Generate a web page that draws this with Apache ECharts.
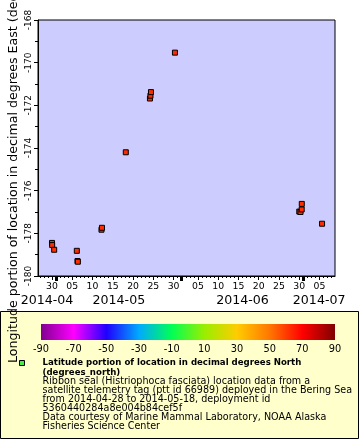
<!DOCTYPE html>
<html><head><meta charset="utf-8">
<script src="https://cdn.jsdelivr.net/npm/echarts@6/dist/echarts.min.js"></script>
<style>html,body{margin:0;padding:0;background:#fff}#c{width:360px;height:440px}</style>
</head><body><div id="c"></div>
<script>
// ---- data ----
const times = ['2014-04-30T00:00','2014-04-30T01:00','2014-04-30T13:00',
  '2014-05-06T03:00','2014-05-06T07:00','2014-05-06T09:00',
  '2014-05-12T05:00','2014-05-12T08:00','2014-05-18T05:00',
  '2014-05-24T04:00','2014-05-24T07:00','2014-05-24T10:00',
  '2014-05-30T08:00','2014-06-30T00:15','2014-06-30T07:30',
  '2014-06-30T14:30','2014-06-30T15:00','2014-07-05T15:00'];
const longitudes = [-178.45,-178.55,-178.77,
  -178.82,-179.30,-179.33,
  -177.83,-177.74,-174.20,
  -171.68,-171.55,-171.38,
  -169.53,-176.98,-177.00,
  -176.88,-176.62,-177.55];
const latitudes = [62.6,62.6,62.5,62.4,62.3,62.3,62.5,62.5,62.7,62.8,62.8,62.8,62.9,62.4,62.4,62.4,62.5,62.3];
const xRange = ['2014-04-26T13:10','2014-07-08T19:40'];
const yTicks = [-180,-178,-176,-174,-172,-170,-168];
const colorbarTicks = [-90,-70,-50,-30,-10,10,30,50,70,90];
const yTitle = 'Longitude portion of location in decimal degrees East (degrees_east)';
const legendTitle = ['Latitude portion of location in decimal degrees North','(degrees_north)'];
const legendLines = ['Ribbon seal (Histriophoca fasciata) location data from a',
  'satellite telemetry tag (ptt id 66989) deployed in the Bering Sea',
  'from 2014-04-28 to 2014-05-18, deployment id',
  '5360440284a8e004b84cef5f',
  'Data courtesy of Marine Mammal Laboratory, NOAA Alaska',
  'Fisheries Science Center'];
// ---- styles ----
const palette = ['#800090','#ff00ff','#2000ff','#00aaff','#00ff55','#99ee00','#ffcc00','#ff7700','#ff0000','#800000'];
const FONT = 'DejaVu Sans';

const DAY = 86400000;
const toMs = s => Date.parse(s + ':00Z');
const xMin = toMs(xRange[0]), xMax = toMs(xRange[1]);
const dayTicks = [], fiveTicks = [], monthTicks = [];
let d0 = new Date(xMin); d0.setUTCHours(0,0,0,0);
let t0 = d0.getTime(); if (t0 < xMin) t0 += DAY;
for (let t = t0; t <= xMax; t += DAY) {
  dayTicks.push(t);
  const dd = new Date(t).getUTCDate();
  if (dd === 1) monthTicks.push(t);
  else if (dd % 5 === 0 && dd <= 30) fiveTicks.push(t);
}
const bounds = [xMin].concat(monthTicks, [xMax]);
const monthCenters = [];
for (let i = 0; i < bounds.length - 1; i++) monthCenters.push((bounds[i] + bounds[i+1]) / 2);
const pad = n => (n < 10 ? '0' : '') + n;
const fmtDay = v => pad(new Date(v).getUTCDate());
const fmtMonth = v => { const d = new Date(v); return d.getUTCFullYear() + '-' + pad(d.getUTCMonth() + 1); };

const chart = echarts.init(document.getElementById('c'), null, {renderer: 'canvas'});
const gradStops = palette.map((c, i) => ({offset: i / (palette.length - 1), color: c}));
const baseX = {type: 'value', gridIndex: 0, min: xMin, max: xMax, position: 'bottom', splitLine: {show: false}};
chart.setOption({
  animation: false,
  textStyle: {fontFamily: FONT},
  grid: [
    {left: 38, top: 20, width: 297, height: 256, show: true, backgroundColor: '#ccccff', borderColor: '#000', borderWidth: 1, containLabel: false},
    {left: 41, top: 324, width: 294, height: 16, show: true, borderWidth: 0,
      backgroundColor: {type: 'linear', x: 0, y: 0, x2: 1, y2: 0, colorStops: gradStops}}
  ],
  xAxis: [
    Object.assign({}, baseX, {
      axisLine: {show: true, lineStyle: {color: '#000', width: 1}},
      axisTick: {show: true, customValues: dayTicks, length: 2, lineStyle: {color: '#000'}},
      axisLabel: {show: true, customValues: fiveTicks, formatter: fmtDay, fontSize: 9.3, color: '#000', margin: 6, fontFamily: FONT}
    }),
    Object.assign({}, baseX, {
      axisLine: {show: false},
      axisTick: {show: true, customValues: fiveTicks, length: 4, lineStyle: {color: '#000'}},
      axisLabel: {show: false}
    }),
    Object.assign({}, baseX, {
      axisLine: {show: false},
      axisTick: {show: true, customValues: monthTicks, length: 5, lineStyle: {color: '#000', width: 3}},
      axisLabel: {show: true, customValues: monthCenters, formatter: fmtMonth, fontSize: 12.6, color: '#000', margin: 18.5, fontFamily: FONT}
    }),
    {type: 'value', gridIndex: 1, min: colorbarTicks[0], max: colorbarTicks[colorbarTicks.length - 1],
      interval: colorbarTicks[1] - colorbarTicks[0], position: 'bottom',
      axisLine: {show: false}, axisTick: {show: false}, splitLine: {show: false},
      axisLabel: {fontSize: 9.8, color: '#000', margin: 4.5, fontFamily: FONT}}
  ],
  yAxis: [
    {type: 'value', gridIndex: 0, min: yTicks[0], max: yTicks[yTicks.length - 1], interval: yTicks[1] - yTicks[0],
      axisLine: {show: true, lineStyle: {color: '#000'}},
      axisTick: {show: true, length: 4, lineStyle: {color: '#000'}},
      minorTick: {show: true, splitNumber: 2, length: 3, lineStyle: {color: '#000'}},
      splitLine: {show: false},
      axisLabel: {rotate: 90, fontSize: 9, color: '#000', margin: 4.5, fontFamily: FONT}},
    {type: 'value', gridIndex: 1, min: 0, max: 1, show: false}
  ],
  visualMap: {show: false, type: 'continuous', seriesIndex: 0, dimension: 2,
    min: colorbarTicks[0], max: colorbarTicks[colorbarTicks.length - 1], inRange: {color: palette}},
  series: [{
    type: 'scatter', xAxisIndex: 0, yAxisIndex: 0, symbol: 'rect', symbolSize: 5,
    itemStyle: {borderColor: '#000', borderWidth: 1, opacity: 1},
    emphasis: {disabled: true},
    data: times.map((t, i) => [toMs(t), longitudes[i], latitudes[i]])
  }],
  graphic: [
    {type: 'rect', z: -10, shape: {x: 0.5, y: 311.5, width: 358, height: 127}, style: {fill: '#ffffcc', stroke: '#000', lineWidth: 1}},
    {type: 'rect', z: 10, shape: {x: 19.5, y: 360.5, width: 5, height: 5}, style: {fill: '#44ee44', stroke: '#000', lineWidth: 1}},
    {type: 'text', z: 10, x: 42.5, y: 358.7, style: {
      text: legendTitle.map(s => '{b|' + s + '}').concat(legendLines.map(s => '{n|' + s + '}')).join('\n'),
      rich: {b: {fontFamily: FONT, fontWeight: 'bold', fontSize: 8.6, lineHeight: 9.05, fill: '#000'},
             n: {fontFamily: FONT, fontSize: 9.6, lineHeight: 9.05, fill: '#000'}},
      fill: '#000'}},
    {type: 'text', z: 10, x: 14, y: 363, rotation: Math.PI / 2, style: {
      text: yTitle, fontFamily: FONT, fontSize: 12.6, fill: '#000', align: 'left', verticalAlign: 'middle'}}
  ]
});
</script></body></html>
